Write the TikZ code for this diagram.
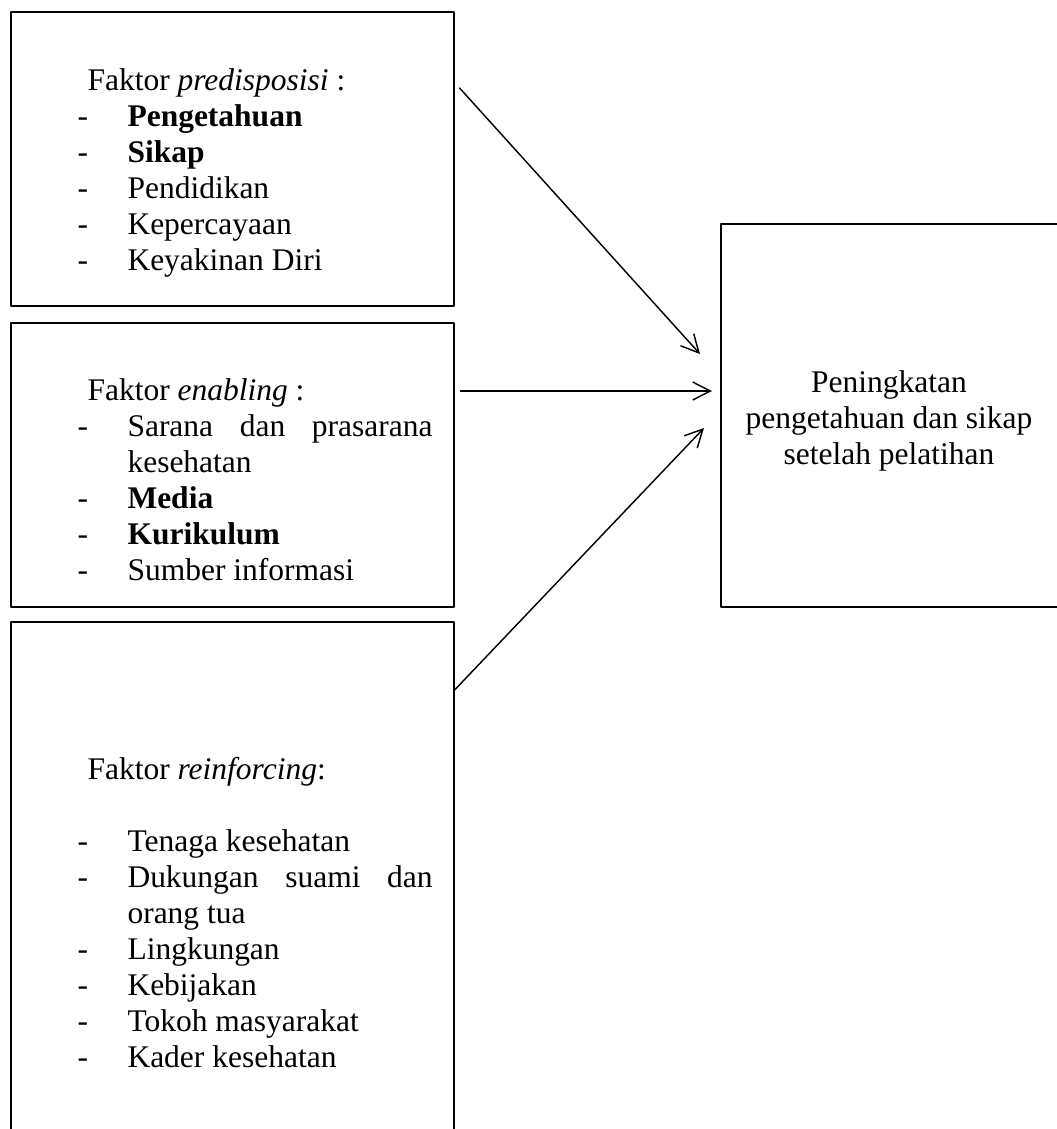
\documentclass[tikz,border=0pt]{standalone}
\usepackage{fontspec}
\setmainfont{Liberation Serif}
\usetikzlibrary{arrows.meta,calc}
\newlength{\pxu}
\setlength{\pxu}{0.381pt}
\newcommand{\butir}[1]{\makebox[50\pxu][l]{-}#1}
\newcommand{\lanjut}[1]{\hspace*{50\pxu}#1}
\newcommand{\rata}[1]{\makebox[305\pxu][s]{#1}}
\newcommand{\judul}[1]{\hspace*{10\pxu}#1}
\begin{document}
\begin{tikzpicture}[line join=round, line cap=round, x=0.381pt, y=-0.381pt,
  kotak/.style={draw, line width=0.6pt, inner sep=0pt, anchor=north west},
  isi/.style={inner sep=0pt, align=left, anchor=base west, font=\fontsize{12}{13.7}\selectfont},
  panah/.style={line width=0.55pt, -{Straight Barb[length=6.7pt, width=6.8pt]}}]
\def \lebar{443};
\useasboundingbox (0,0) rectangle (1057,1129);
\clip (0,0) rectangle (1057,1129);
\node[kotak, minimum width=\lebar\pxu, minimum height=294\pxu] (pred) at (10,11) {};
\node[kotak, minimum width=\lebar\pxu, minimum height=284\pxu] (enab) at (10,322) {};
\node[kotak, minimum width=\lebar\pxu, minimum height=540\pxu] (reinf) at (10,621) {};
\node[kotak, minimum width=340\pxu, minimum height=383\pxu] (hasil) at (720,223) {};
\node[isi] (predisi) at (77,270) {\judul{Faktor \textit{predisposisi} :}\\
  \butir{\textbf{Pengetahuan}}\\
  \butir{\textbf{Sikap}}\\
  \butir{Pendidikan}\\
  \butir{Kepercayaan}\\
  \butir{Keyakinan Diri}};
\node[isi] (enabisi) at (77,580) {\judul{Faktor \textit{enabling} :}\\
  \butir{\rata{Sarana dan prasarana}}\\
  \lanjut{kesehatan}\\
  \butir{\textbf{Media}}\\
  \butir{\textbf{Kurikulum}}\\
  \butir{Sumber informasi}};
\node[isi] (reinfisi) at (77,1067) {\judul{Faktor \textit{reinforcing}:}\\[13.7pt]
  \butir{Tenaga kesehatan}\\
  \butir{\rata{Dukungan suami dan}}\\
  \lanjut{orang tua}\\
  \butir{Lingkungan}\\
  \butir{Kebijakan}\\
  \butir{Tokoh masyarakat}\\
  \butir{Kader kesehatan}};
\node[isi, align=center, anchor=base] (hasilisi) at (889,464) {Peningkatan\\
  pengetahuan dan sikap\\
  setelah pelatihan};
\draw[panah] ($(pred.north east)+(5,77)$) -- ($(hasil.north west)+(-20,131)$);
\draw[panah] ($(enab.north east)+(6,69)$) -- ($(hasil.north west)+(-8,168)$);
\draw[panah] ($(reinf.north east)+(0,69)$) -- ($(hasil.north west)+(-16,205)$);
\end{tikzpicture}
\end{document}
